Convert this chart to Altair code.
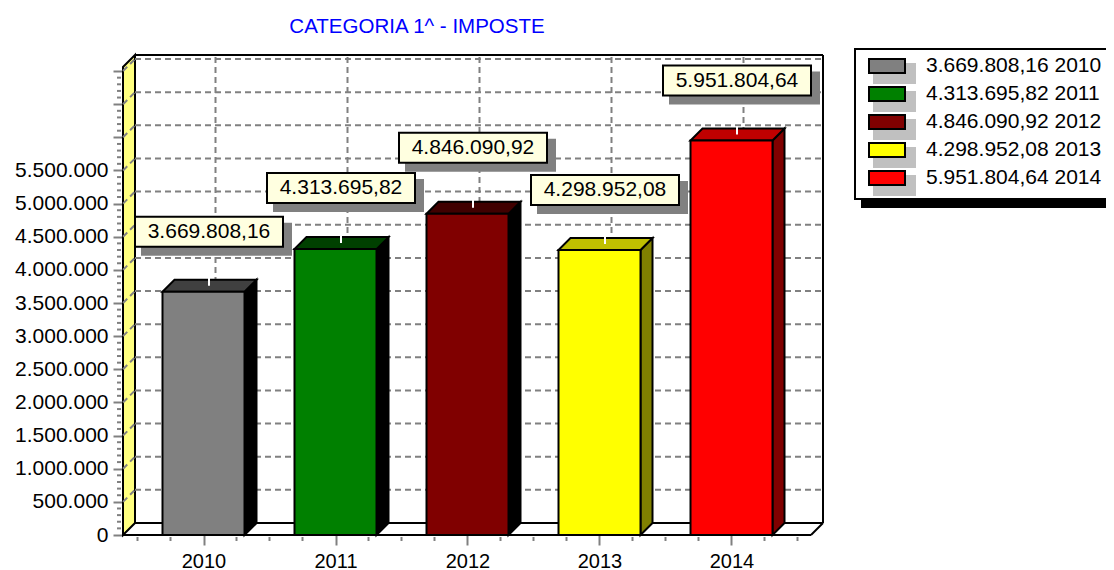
import altair as alt
import pandas as pd

YEARS = [2010, 2011, 2012, 2013, 2014]
VALUES = [3669808.16, 4313695.82, 4846090.92, 4298952.08, 5951804.64]
VALUE_LABELS = ["3.669.808,16", "4.313.695,82", "4.846.090,92", "4.298.952,08", "5.951.804,64"]
FRONT = ["#808080", "#008000", "#800000", "#FFFF00", "#FF0000"]
TOP = ["#404040", "#004000", "#400000", "#C0C000", "#C00000"]
SIDE = ["#000000", "#000000", "#000000", "#808000", "#800000"]
TITLE = "CATEGORIA 1^ - IMPOSTE"
FONT = "Liberation Sans"
LIFT = [60, 61, 66, 60, 60]

# pixel <-> data helpers for the hand-built 3D furniture
PX_YEAR = 132.0
PX_STEP = 33.14


def fx(px):
    return 2010 + (px - 203.5) / PX_YEAR


def fy(py):
    return (535 - py) * 500000 / PX_STEP


DX = 12 / PX_YEAR
DY = fy(523)
XS = alt.Scale(domain=[fx(123), fx(811)], nice=False, zero=False)
YS = alt.Scale(domain=[0, fy(67)], nice=False, zero=False)
MAJOR = list(range(0, 7000001, 500000))
MINOR = [v for v in range(0, 7000001, 100000) if v % 500000]
XMINOR = [2009.5 + i * 0.25 for i in range(21) if (i * 0.25 + 0.5) % 1 != 0]

axis_y = alt.Axis(
    values=MAJOR, grid=False, domain=False, tickSize=10, tickWidth=2, tickColor="#808080",
    labelFont=FONT, labelFontSize=21, labelColor="#000000", labelPadding=5, title=None,
    labelExpr="datum.value > 5500000 ? '' : replace(format(datum.value, ','), regexp(',', 'g'), '.')",
)
axis_x = alt.Axis(
    values=YEARS, format="d", grid=False, domain=False, tickSize=10, tickWidth=2, tickColor="#808080",
    labelFont=FONT, labelFontSize=20, labelColor="#000000", labelPadding=6, title=None,
)


def X(f="x"):
    return alt.X(f, type="quantitative", scale=XS, axis=axis_x)


def Y(f="y"):
    return alt.Y(f, type="quantitative", scale=YS, axis=axis_y)


def rect(x0, x1, y0, y1, **kw):
    d = pd.DataFrame({"x": [x0], "x2": [x1], "y": [y0], "y2": [y1]})
    return alt.Chart(d).mark_rect(**kw).encode(x=X(), x2="x2", y=Y(), y2="y2")


def rule(rows, **kw):
    d = pd.DataFrame(rows, columns=["x", "x2", "y", "y2"])
    return alt.Chart(d).mark_rule(**kw).encode(x=X(), x2="x2", y=Y(), y2="y2")


def poly(rows, **kw):
    d = pd.DataFrame(rows, columns=["x", "y", "y2"])
    return alt.Chart(d).mark_area(**kw).encode(x=X(), y=Y(), y2="y2")


def text(x, y, s, **kw):
    d = pd.DataFrame({"x": [x], "y": [y], "t": [s]})
    return alt.Chart(d).mark_text(font=FONT, **kw).encode(x=X(), y=Y(), text="t:N")


BLACK = dict(stroke="#000000", strokeWidth=2)
GRID = dict(stroke="#808080", strokeWidth=2, strokeDash=[6, 4])

layers = []

# minor ticks
layers.append(
    alt.Chart(pd.DataFrame({"y": MINOR})).mark_rule(stroke="#808080", strokeWidth=2)
    .encode(x=alt.value(-6), x2=alt.value(-2), y=Y())
)
layers.append(
    alt.Chart(pd.DataFrame({"x": XMINOR})).mark_rule(stroke="#808080", strokeWidth=2)
    .encode(y=alt.value(470), y2=alt.value(474), x=X())
)

# left wall
left, right = fx(123), fx(811)
top = fy(67)
layers.append(poly([[left, 0, top], [left + DX, DY, top + DY]], fill="#FFFF80", **BLACK))

# grids on the wall and back plane
layers.append(rule([[left, left + DX, v, v + DY] for v in MAJOR[1:]], **GRID))
layers.append(rule([[left + DX, right + DX, v + DY, v + DY] for v in MAJOR[1:]], **GRID))
layers.append(rule([[y + DX, y + DX, DY, top + DY] for y in YEARS], **GRID))

# back box and floor
layers.append(rule([
    [left + DX, right + DX, top + DY, top + DY],
    [right + DX, right + DX, DY, top + DY],
    [left + DX, right + DX, DY, DY],
    [left, right, 0, 0],
    [right, right + DX, 0, DY],
], **BLACK))

# bars
HALF = 41 / PX_YEAR
for yr, v, f, t, s in zip(YEARS, VALUES, FRONT, TOP, SIDE):
    xl, xr = yr - HALF, yr + HALF
    layers.append(poly([[xr, 0, v], [xr + DX, DY, v + DY]], fill=s, **BLACK))
    layers.append(poly([[xl, v, v], [xl + DX, v, v + DY], [xr, v, v + DY], [xr + DX, v + DY, v + DY]], fill=t, **BLACK))
    layers.append(rect(xl, xr, 0, v, fill=f, **BLACK))

# value callouts
BOXW = 74 / PX_YEAR
BOXH = fy(520)
OFF = 5.5 / PX_YEAR
for yr, v, lab, lift in zip(YEARS, VALUES, VALUE_LABELS, LIFT):
    cx = yr + OFF
    cy = v + fy(535 - lift)
    layers.append(rule([[cx, cx, v + fy(529), v + fy(521)]], stroke="#FFFFFF", strokeWidth=2))
    layers.append(rect(cx - BOXW + 6 / PX_YEAR, cx + BOXW + 9 / PX_YEAR, cy - BOXH - fy(526), cy + BOXH - fy(529), fill="#808080"))
    layers.append(rect(cx - BOXW, cx + BOXW, cy - BOXH, cy + BOXH, fill="#FFFFE0", **BLACK))
    layers.append(text(cx, cy, lab, fontSize=21, color="#000000", align="center", baseline="middle"))

# title
layers.append(text(fx(417), fy(27), TITLE, fontSize=20.5, color="#0000FF", align="center", baseline="middle"))

# legend
layers.append(rect(fx(861), fx(1114), fy(208), fy(190), fill="#000000"))
layers.append(rect(fx(855), fx(1118), fy(199), fy(49), fill="#FFFFFF", **BLACK))
for i, (yr, lab, f) in enumerate(zip(YEARS, VALUE_LABELS, FRONT)):
    o = 28 * i
    layers.append(rect(fx(873), fx(916), fy(84 + o), fy(63 + o), fill="#C0C0C0"))
    layers.append(rect(fx(869), fx(905), fy(73 + o), fy(59 + o), fill=f, **BLACK))
    layers.append(text(fx(926), fy(66 + o), f"{lab} {yr}", fontSize=21, color="#000000", align="left", baseline="middle"))

chart = alt.layer(*layers).properties(
    width=688, height=468,
    autosize=alt.AutoSizeParams(type="none"),
    padding={"left": 115, "top": 59, "right": 295, "bottom": 35},
).configure_view(stroke=None)

chart.save("out.html", embed_options={"renderer": "svg", "actions": False})
